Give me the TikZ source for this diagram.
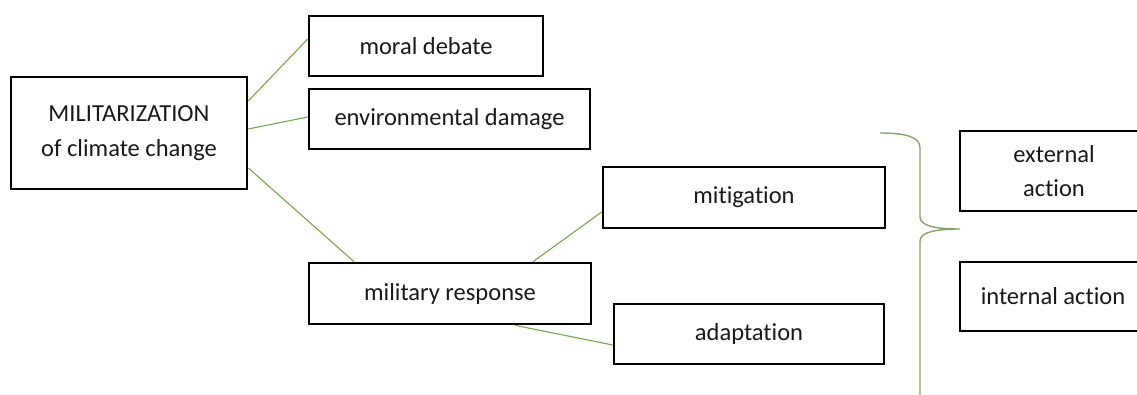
\documentclass[tikz,border=0pt]{standalone}
\usepackage{fontspec}
\setmainfont{Carlito}[Ligatures=CommonOff]
\definecolor{lgreen}{HTML}{70AD47}
\definecolor{bgreen}{HTML}{7FA864}
\begin{document}
\begin{tikzpicture}[x=1pt,y=-1pt,
  box/.style={draw=black,line width=2.6pt,inner sep=0pt,align=center,
    font=\fontsize{24.5}{34.5}\selectfont,text=black!90},
  link/.style={draw=lgreen,line width=1.1pt},
  bracestyle/.style={draw=bgreen,line width=1.4pt}]
\clip (0,0) rectangle (1137,394);
\useasboundingbox (0,0) rectangle (1137,394);
\node[box,minimum width=236pt,minimum height=112pt] (main) at (129,133) {MILITARIZATION\\of climate change};
\node[box,minimum width=234pt,minimum height=60pt] (moral) at (426,46) {moral debate};
\node[box,minimum width=281pt,minimum height=60pt] (env) at (449.5,119) {environmental damage};
\node[box,minimum width=282pt,minimum height=61pt] (mil) at (450,293.5) {military response};
\node[box,minimum width=282pt,minimum height=61pt] (miti) at (744,197.5) {mitigation};
\node[box,minimum width=270pt,minimum height=60pt] (adap) at (749,334) {adaptation};
\node[box,minimum width=188pt,minimum height=80pt] (ext) at (1054,171) {external\\action};
\node[box,minimum width=186pt,minimum height=69pt] (int) at (1053,296.5) {internal action};
\draw[link] ([yshift=32pt]main.east) -- ([yshift=7pt]moral.west);
\draw[link] ([yshift=4pt]main.east) -- ([yshift=2pt]env.west);
\draw[link] ([yshift=-35pt]main.east) -- ([xshift=-96pt]mil.north);
\draw[link] ([xshift=83pt]mil.north) -- ([yshift=-14.5pt]miti.west);
\draw[link] ([xshift=65pt]mil.south) -- ([yshift=-11pt]adap.west);
\draw[bracestyle] (880,133) .. controls (906,133) and (920,137) .. (920,148)
  -- (920,217) .. controls (920,226) and (936,229) .. (960,229)
  .. controls (936,229) and (920,232) .. (920,241) -- (920,396);
\end{tikzpicture}
\end{document}
